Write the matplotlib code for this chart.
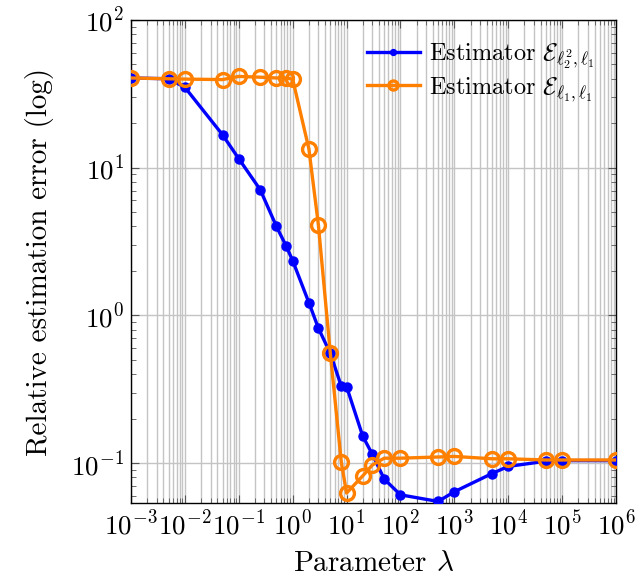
import matplotlib
matplotlib.use("Agg")
import matplotlib.pyplot as plt
from matplotlib.ticker import LogLocator, NullFormatter

plt.rcParams["mathtext.fontset"] = "cm"
plt.rcParams["font.family"] = ["cmr10", "DejaVu Serif"]
plt.rcParams["axes.formatter.use_mathtext"] = True

# regularisation parameter values
lam = [1e-3, 5e-3, 1e-2, 5e-2, 1e-1, 0.25, 0.5, 0.75, 1, 2, 3, 5, 8, 10,
       20, 30, 50, 100, 500, 1e3, 5e3, 1e4, 5e4, 1e5, 1e6]

err_l22_l1 = [40.5, 40.0, 35.0, 16.7, 11.5, 7.1, 4.0, 2.97, 2.35, 1.22, 0.82,
              0.553, 0.331, 0.330, 0.152, 0.115, 0.078, 0.061, 0.055, 0.064,
              0.085, 0.095, 0.103, 0.104, 0.104]

err_l1_l1 = [40.5, 40.0, 39.8, 39.5, 41.5, 41.0, 40.5, 40.5, 39.8, 13.4, 4.1,
             0.553, 0.101, 0.0627, 0.082, 0.097, 0.108, 0.108, 0.110, 0.111,
             0.107, 0.107, 0.105, 0.105, 0.105]

fig = plt.figure(figsize=(6.35, 5.82), dpi=100)
ax = fig.add_axes([131 / 635, 1 - 503 / 582, 485 / 635, 483 / 582])

ax.plot(lam, err_l22_l1, color="#0000ff", lw=2.4, marker="o", ms=6.5,
        label=r"Estimator $\mathcal{E}_{\ell_2^2,\ell_1}$", zorder=3)
ax.plot(lam, err_l1_l1, color="#ff7f00", lw=2.4, marker="o", ms=10,
        mfc="none", mew=2.4,
        label=r"Estimator $\mathcal{E}_{\ell_1,\ell_1}$", zorder=4)

ax.set_xscale("log")
ax.set_yscale("log")
ax.set_xlim(1e-3, 1e6)
ax.set_ylim(0.0537, 100)

ax.xaxis.set_major_locator(LogLocator(base=10, numticks=20))
ax.xaxis.set_minor_locator(LogLocator(base=10, subs=range(2, 10), numticks=100))
ax.xaxis.set_minor_formatter(NullFormatter())
ax.yaxis.set_minor_locator(LogLocator(base=10, subs=range(2, 10), numticks=100))
ax.yaxis.set_minor_formatter(NullFormatter())

ax.grid(True, which="major", axis="both", color="#c4c4c4", lw=1.0)
ax.grid(True, which="minor", axis="x", color="#c4c4c4", lw=1.0)
ax.set_axisbelow(True)

ax.tick_params(which="both", direction="in", top=True, right=True,
               labelsize=19.5, color="#555555")
ax.tick_params(which="major", length=6, pad=5)
ax.tick_params(which="minor", length=3.5)
for s in ax.spines.values():
    s.set_linewidth(1.0)

ax.set_xlabel(r"Parameter $\lambda$", fontsize=21, labelpad=8)
ax.set_ylabel("Relative estimation error (log)", fontsize=21, labelpad=12)

ax.legend(loc="upper right", bbox_to_anchor=(0.99, 0.99), frameon=False,
          fontsize=17.5, handlelength=2.2, handletextpad=0.35,
          labelspacing=0.15, markerscale=0.65, borderaxespad=0.3)

fig.savefig("out.png", dpi=100)
